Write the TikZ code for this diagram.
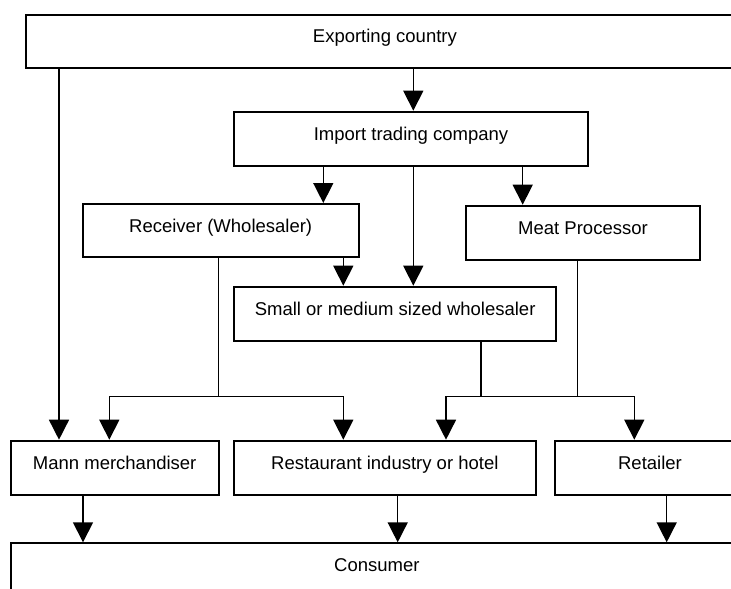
\documentclass[tikz,border=0pt]{standalone}
\usepackage{fontspec}
\setmainfont{Liberation Sans}
\usepackage{tikz}
\usetikzlibrary{arrows.meta}
\tikzset{>/.tip={Triangle[length=20pt,width=20pt]},
  box/.style={draw, line width=2pt, inner sep=0pt,
    font=\fontsize{18.5}{22}\selectfont, text height=13.3pt, text depth=10.3pt},
  link/.style={line width=1.5pt}}

\begin{document}
\begin{tikzpicture}[x=1pt,y=-1pt]
\useasboundingbox (0,0) rectangle (731,589);
\clip (0,0) rectangle (731,589);

\node[box, minimum width=718.3pt, minimum height=52.7pt] (exp) at (384.9,41.35) {Exporting country};
\node[box, minimum width=354.6pt, minimum height=54pt] (imp) at (411,138.7) {Import trading company};
\node[box, minimum width=276pt, minimum height=53.3pt] (recv) at (220.7,230.65) {Receiver (Wholesaler)};
\node[box, minimum width=234pt, minimum height=54.3pt] (meat) at (583,232.85) {Meat Processor};
\node[box, minimum width=321.7pt, minimum height=54pt] (smw) at (395.15,313.7) {Small or medium sized wholesaler};
\node[box, minimum width=208pt, minimum height=54.3pt] (mann) at (114.7,467.85) {Mann merchandiser};
\node[box, minimum width=302.3pt, minimum height=54.3pt] (rest) at (384.85,467.85) {Restaurant industry or hotel};
\node[box, minimum width=190pt, minimum height=54.3pt] (ret) at (650,467.85) {Retailer};
\node[box, minimum width=732.3pt, minimum height=54pt] (cons) at (376.85,570.3) {Consumer};

\coordinate (bus) at (0,396.7);

\draw[link,->] (exp.south -| 413.3,0) -- (imp.north -| 413.3,0);
\draw[link,->] (exp.south -| 59,0) -- (mann.north -| 59,0);

\draw[link,->] (imp.south -| 323.3,0) -- (recv.north -| 323.3,0);
\draw[link,->] (imp.south -| 413.3,0) -- (smw.north -| 413.3,0);
\draw[link,->] (imp.south -| 522.7,0) -- (meat.north -| 522.7,0);
\draw[link,->] (recv.south -| 343.3,0) -- (smw.north -| 343.3,0);

\draw[link] (recv.south -| 218.3,0) -- (bus -| 218.3,0);
\draw[link,->] (bus -| 218.3,0) -| (mann.north -| 109.3,0);
\draw[link,->] (bus -| 218.3,0) -| (rest.north -| 343.3,0);

\draw[link] (smw.south -| 481,0) -- (bus -| 481,0);
\draw[link] (meat.south -| 577.7,0) -- (bus -| 577.7,0);
\draw[link,->] (bus -| 481,0) -| (rest.north -| 446,0);
\draw[link,->] (bus -| 481,0) -| (ret.north -| 634.3,0);

\draw[link,->] (mann.south -| 83,0) -- (cons.north -| 83,0);
\draw[link,->] (rest.south -| 397.7,0) -- (cons.north -| 397.7,0);
\draw[link,->] (ret.south -| 666.7,0) -- (cons.north -| 666.7,0);
\end{tikzpicture}
\end{document}
